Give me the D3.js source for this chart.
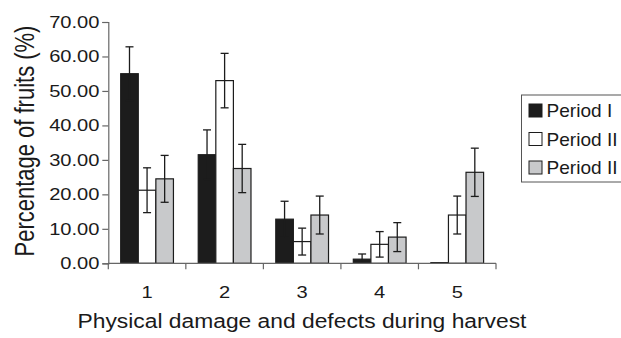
<!DOCTYPE html>
<html>
<head>
<meta charset="utf-8">
<script src="https://cdn.jsdelivr.net/npm/d3@7"></script>
<style>
  body { margin: 0; background: #fff; }
  text { font-family: "Liberation Sans", Arial, sans-serif; fill: #1a1a1a; }
</style>
</head>
<body>
<div id="chart"></div>
<script>
"use strict";

var categories = ["1", "2", "3", "4", "5"];
var periods = ["Period I", "Period II", "Period II"];
var period1 = [55.0, 31.5, 12.8, 1.2, 0.2];
var period2 = [21.2, 53.0, 6.3, 5.5, 14.0];
var period3 = [24.5, 27.5, 14.0, 7.6, 26.4];
var err1 = [7.8, 7.2, 5.2, 1.5, 0];
var err2 = [6.5, 7.9, 3.9, 3.7, 5.5];
var err3 = [6.8, 7.0, 5.5, 4.2, 7.0];
var yTicks = [0, 10, 20, 30, 40, 50, 60, 70];
var colors = ["#1c1c1c", "#ffffff", "#c8c9cb"];

var width = 621, height = 338;
var values = [period1, period2, period3];
var errors = [err1, err2, err3];
var sx = 1.22; //the picture is a bit wider than tall, stretch text the same way

var svg = d3.select("#chart").append("svg")
    .attr("width", width)
    .attr("height", height);

var x0 = d3.scaleBand()
    .domain(categories)
    .range([108.3, 496]);

var x1 = d3.scaleBand()
    .domain([0, 1, 2])
    .range([12.4, x0.bandwidth() - 12.4]);

var y = d3.scaleLinear()
    .domain([0, 70])
    .range([263.3, 22]);

//one row per bar
var rows = [];
categories.forEach(function(c, i){
    values.forEach(function(v, s){
        rows.push({ cat: c, s: s, v: v[i], e: errors[s][i] });
    });
});

svg.append("g")
    .selectAll("rect")
    .data(rows)
    .enter()
    .append("rect")
    .attr("x", function(d){ return x0(d.cat) + x1(d.s); })
    .attr("y", function(d){ return y(d.v); })
    .attr("width", x1.bandwidth())
    .attr("height", function(d){ return y(0) - y(d.v); })
    .attr("fill", function(d){ return colors[d.s]; })
    .attr("stroke", "#1c1c1c")
    .attr("stroke-width", 1.2);

//error bars
function cx(d){ return x0(d.cat) + x1(d.s) + x1.bandwidth() / 2; }
function hi(d){ return y(d.v + d.e); }
function lo(d){ return y(Math.max(0, d.v - d.e)); }

var eb = svg.append("g")
    .attr("stroke", "#1c1c1c")
    .attr("stroke-width", 1.3)
    .selectAll("g")
    .data(rows.filter(function(d){ return d.e > 0; }))
    .enter()
    .append("g");

eb.append("line")
    .attr("x1", cx).attr("x2", cx)
    .attr("y1", hi).attr("y2", lo);
eb.append("line")
    .attr("x1", function(d){ return cx(d) - 4; })
    .attr("x2", function(d){ return cx(d) + 4; })
    .attr("y1", hi).attr("y2", hi);
eb.append("line")
    .attr("x1", function(d){ return cx(d) - 4; })
    .attr("x2", function(d){ return cx(d) + 4; })
    .attr("y1", lo).attr("y2", lo);

//y axis
var yAxis = svg.append("g")
    .attr("transform", "translate(108.3,0)")
    .call(d3.axisLeft(y).tickValues(yTicks).tickSize(6).tickFormat(""));
yAxis.selectAll(".domain, .tick line").attr("stroke", "#666").attr("stroke-width", 1.2);

svg.append("g")
    .selectAll("text")
    .data(yTicks)
    .enter()
    .append("text")
    .attr("transform", function(d){ return "translate(99.5," + y(d) + ") scale(" + sx + ",1)"; })
    .attr("dy", "0.35em")
    .attr("text-anchor", "end")
    .style("font-size", "16.5px")
    .text(d3.format(".2f"));

//x axis, ticks sit between groups
var xAxis = svg.append("g")
    .attr("transform", "translate(0," + y(0) + ")")
    .attr("stroke", "#666")
    .attr("stroke-width", 1.2);
xAxis.append("line")
    .attr("x1", x0.range()[0]).attr("x2", x0.range()[1]);
xAxis.selectAll(".tk")
    .data(d3.range(categories.length + 1))
    .enter()
    .append("line")
    .attr("class", "tk")
    .attr("x1", function(i){ return x0.range()[0] + i * x0.bandwidth(); })
    .attr("x2", function(i){ return x0.range()[0] + i * x0.bandwidth(); })
    .attr("y1", 0).attr("y2", 6);

svg.append("g")
    .selectAll("text")
    .data(categories)
    .enter()
    .append("text")
    .attr("transform", function(d){ return "translate(" + (x0(d) + x0.bandwidth() / 2) + ",298) scale(" + sx + ",1)"; })
    .attr("text-anchor", "middle")
    .style("font-size", "16.5px")
    .text(function(d){ return d; });

//axis titles
svg.append("text")
    .attr("transform", "translate(34,141) rotate(-90) scale(1," + sx + ")")
    .attr("text-anchor", "middle")
    .style("font-size", "22px")
    .text("Percentage of fruits (%)");

svg.append("text")
    .attr("transform", "translate(302,328) scale(1.17,1)")
    .attr("text-anchor", "middle")
    .style("font-size", "19.5px")
    .text("Physical damage and defects during harvest");

//legend
var legend = svg.append("g");
legend.append("rect")
    .attr("x", 521.5).attr("y", 95)
    .attr("width", 110).attr("height", 87)
    .attr("fill", "#fff")
    .attr("stroke", "#555")
    .attr("stroke-width", 1);
var item = legend.selectAll("g")
    .data(periods)
    .enter()
    .append("g")
    .attr("transform", function(d, i){ return "translate(529," + (104 + i * 28.5) + ")"; });
item.append("rect")
    .attr("width", 13).attr("height", 13)
    .attr("fill", function(d, i){ return colors[i]; })
    .attr("stroke", "#1c1c1c");
item.append("text")
    .attr("transform", "translate(17.5,13) scale(1.09,1)")
    .style("font-size", "17.5px")
    .text(function(d){ return d; });
</script>
</body>
</html>
